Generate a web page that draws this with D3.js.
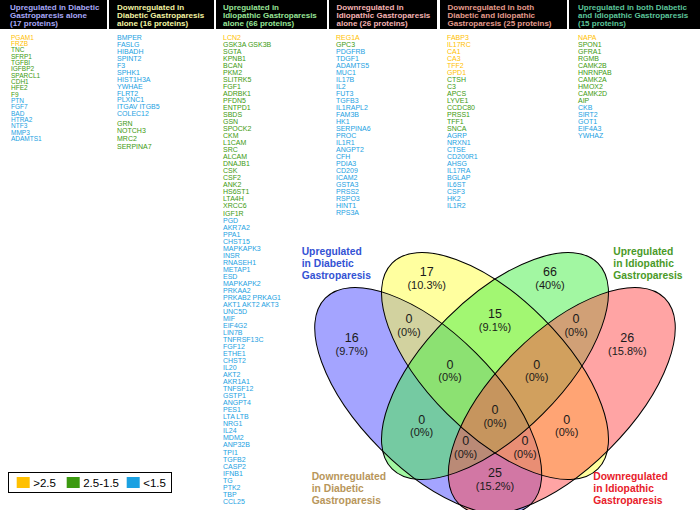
<!DOCTYPE html>
<html><head><meta charset="utf-8">
<script src="https://cdn.jsdelivr.net/npm/d3@7"></script>
<style>
body{margin:0;background:#fff}
svg{display:block}
text{font-family:"Liberation Sans",Arial,Helvetica,sans-serif}
</style>
</head><body>
<svg id="chart" width="700" height="510"></svg>
<script>
// ---------------- DATA ----------------
const legendLabels = [">2.5", "2.5-1.5", "<1.5"];
const levelColors = ["#ffc000", "#3c9a10", "#1ba1e2"];

const headerLines = [
  ["Upregulated in Diabetic", "Gastroparesis alone", "(17 proteins)"],
  ["Downregulated in", "Diabetic Gastroparesis", "alone (16 proteins)"],
  ["Upregulated in", "Idiopathic Gastroparesis", "alone (66 proteins)"],
  ["Downregulated in", "Idiopathic Gastroparesis", "alone (26 proteins)"],
  ["Downregulated in both", "Diabetic and Idiopathic", "Gastroparesis (25 proteins)"],
  ["Upregulated in both Diabetic", "and Idiopathic Gastroparesis", "(15 proteins)"]
];
const headerColors = ["#a8a8f8", "#f4f4a4", "#98e498", "#f4b4b4", "#e49c8c", "#5cc49a"];

const col1High = ["PGAM1", "FRZB"];
const col1Mid = ["TNC", "SFRP1", "TGFBI", "IGFBP2", "SPARCL1", "CDH1", "HFE2", "F9"];
const col1Low = ["PTN", "FGF7", "BAD", "HTRA2", "NTF3", "MMP3", "ADAMTS1"];

const col2Low = ["BMPER", "FASLG", "HIBADH", "SPINT2", "F3", "SPHK1", "HIST1H3A", "YWHAE", "FLRT2", "PLXNC1", "ITGAV ITGB5", "COLEC12"];
const col2Mid = ["GRN", "NOTCH3", "MRC2", "SERPINA7"];

const col3High = ["LCN2"];
const col3Mid = ["GSK3A GSK3B", "SGTA", "KPNB1", "BCAN", "PKM2", "SLITRK5", "FGF1", "ADRBK1", "PFDN5", "ENTPD1", "SBDS", "GSN", "SPOCK2", "CKM", "L1CAM", "SRC", "ALCAM", "DNAJB1", "CSK", "CSF2", "ANK2", "HS6ST1", "LTA4H", "XRCC6", "IGF1R"];
const col3Low = ["PGD", "AKR7A2", "PPA1", "CHST15", "MAPKAPK3", "INSR", "RNASEH1", "METAP1", "ESD", "MAPKAPK2", "PRKAA2", "PRKAB2 PRKAG1", "AKT1 AKT2 AKT3", "UNC5D", "MIF", "EIF4G2", "LIN7B", "TNFRSF13C", "FGF12", "ETHE1", "CHST2", "IL20", "AKT2", "AKR1A1", "TNFSF12", "GSTP1", "ANGPT4", "PES1", "LTA LTB", "NRG1", "IL24", "MDM2", "ANP32B", "TPI1", "TGFB2", "CASP2", "IFNB1", "TG", "PTK2", "TBP", "CCL25"];

const col4High = ["REG1A"];
const col4Mid = ["GPC3"];
const col4Low = ["PDGFRB", "TDGF1", "ADAMTS5", "MUC1", "IL17B", "IL2", "FUT3", "TGFB3", "IL1RAPL2", "FAM3B", "HK1", "SERPINA6", "PROC", "IL1R1", "ANGPT2", "CFH", "PDIA3", "CD209", "ICAM2", "GSTA3", "PRSS2", "RSPO3", "HINT1", "RPS3A"];

const col5High = ["FABP3", "IL17RC", "CA1", "CA3", "TFF2", "GPD1"];
const col5Mid = ["CTSH", "C3", "APCS", "LYVE1", "CCDC80", "PRSS1", "TFF1", "SNCA"];
const col5Low = ["AGRP", "NRXN1", "CTSE", "CD200R1", "AHSG", "IL17RA", "BGLAP", "IL6ST", "CSF3", "HK2", "IL1R2"];

const col6High = ["NAPA"];
const col6Mid = ["SPON1", "GFRA1", "RGMB", "CAMK2B", "HNRNPAB", "CAMK2A", "HMOX2", "CAMK2D", "AIP"];
const col6Low = ["CKB", "SIRT2", "GOT1", "EIF4A3", "YWHAZ"];

// Venn sets (drawing order) and region values
const setLabels = [
  ["Upregulated", "in Diabetic", "Gastroparesis"],
  ["Downregulated", "in Diabetic", "Gastroparesis"],
  ["Upregulated", "in Idiopathic", "Gastroparesis"],
  ["Downregulated", "in Idiopathic", "Gastroparesis"]
];
const setFills = ["#4a4aff", "#ffff40", "#46f046", "#ff4a4a"];
const setLabelColors = ["#3352d4", "#b8965a", "#4a9a28", "#e8202a"];
// regions: B=blue, Y=yellow, G=green, R=red
const regionKeys = ["B", "Y", "G", "R", "BY", "YG", "GR", "BYG", "YGR", "BG", "BYGR", "YR", "BGR", "BYR", "BR"];
const regionCounts = [16, 17, 66, 26, 0, 15, 0, 0, 0, 0, 0, 0, 0, 0, 25];
const regionPercents = ["9.7%", "10.3%", "40%", "15.8%", "0%", "9.1%", "0%", "0%", "0%", "0%", "0%", "0%", "0%", "0%", "15.2%"];

// ---------------- LAYOUT ----------------
const svg = d3.select("#chart");
const W = 700, H = 510;
svg.append("rect").attr("width", W).attr("height", H).attr("fill", "#fff");

// header boxes
const boxEdges = [[0, 107], [109, 214], [216, 327], [329, 437], [440, 567], [569, 700]];
const colX = d3.scaleOrdinal().domain(d3.range(6)).range([10, 117, 223, 336.5, 447.5, 578]);
const hdr = svg.append("g");
boxEdges.forEach((e, i) => {
  hdr.append("rect").attr("x", e[0]).attr("y", 0).attr("width", e[1] - e[0]).attr("height", 29).attr("fill", "#000");
  headerLines[i].forEach((ln, j) => {
    hdr.append("text").attr("x", colX(i)).attr("y", 10 + j * 8)
      .attr("font-size", 8).attr("font-weight", "bold").attr("fill", headerColors[i]).text(ln);
  });
});

// protein columns
const columns = [
  {groups: [[col1High, 0], [col1Mid, 1], [col1Low, 2]], step: 6.35, fs: 6.5, x: 11},
  {groups: [[col2Low, 2], [col2Mid, 1]], step: 6.97, fs: 7, x: 117, gapAfter: [2.2], stepByGroup: [6.97, 7.9]},
  {groups: [[col3High, 0], [col3Mid, 1], [col3Low, 2]], step: 7.03, fs: 7, x: 223},
  {groups: [[col4High, 0], [col4Mid, 1], [col4Low, 2]], step: 7.0, fs: 7, x: 336},
  {groups: [[col5High, 0], [col5Mid, 1], [col5Low, 2]], step: 7.0, fs: 7, x: 447},
  {groups: [[col6High, 0], [col6Mid, 1], [col6Low, 2]], step: 7.0, fs: 7, x: 578}
];
const levelColor = d3.scaleOrdinal().domain([0, 1, 2]).range(levelColors);
const listG = svg.append("g");
columns.forEach((c, ci) => {
  let y = 37.3;
  c.groups.forEach(([names, lvl], gi) => {
    const step = c.stepByGroup ? c.stepByGroup[gi] : c.step;
    if (c.gapAfter && gi > 0) y += c.gapAfter[gi - 1] || 0;
    const ys = d3.scaleLinear().domain([0, 1]).range([y, y + step]);
    listG.selectAll(null).data(names).enter().append("text")
      .attr("x", c.x).attr("y", (d, i) => ys(i))
      .attr("dy", "0.35em")
      .attr("font-size", c.fs).attr("fill", levelColor(lvl)).text(d => d);
    y = ys(names.length);
  });
});

// legend
const lg = svg.append("g");
lg.append("rect").attr("x", 8.5).attr("y", 472.5).attr("width", 163).attr("height", 20)
  .attr("fill", "#fff").attr("stroke", "#000").attr("stroke-width", 1);
const legX = d3.scaleOrdinal().domain(legendLabels).range([16.7, 66.7, 126.7]);
legendLabels.forEach((l, i) => {
  lg.append("rect").attr("x", legX(l)).attr("y", 477).attr("width", 13).attr("height", 11).attr("fill", levelColors[i]);
  lg.append("text").attr("x", legX(l) + 16.5).attr("y", 483).attr("dy", "0.35em").attr("font-size", 11.5).attr("fill", "#000").text(l);
});

// Venn diagram (normalised coordinates -> pixels)
const S = 410;
const vx = d3.scaleLinear().domain([0, 1]).range([290, 290 + S]);
const vy = d3.scaleLinear().domain([0, 1]).range([595.7, 595.7 - S]);
const ellA = 0.355, ellB = 0.165;
const ellipses = [
  {cx: 0.3371, cy: 0.4749, rot: 45},
  {cx: 0.5, cy: 0.5602, rot: 45},
  {cx: 0.5, cy: 0.5602, rot: -45},
  {cx: 0.6629, cy: 0.4749, rot: -45}
];
const vg = svg.append("g");
vg.selectAll("ellipse.fill").data(ellipses).enter().append("ellipse")
  .attr("class", "fill")
  .attr("rx", ellA * S).attr("ry", ellB * S)
  .attr("transform", d => `translate(${vx(d.cx)},${vy(d.cy)}) rotate(${d.rot})`)
  .attr("fill", (d, i) => setFills[i]).attr("fill-opacity", 0.5);
vg.selectAll("ellipse.line").data(ellipses).enter().append("ellipse")
  .attr("class", "line")
  .attr("rx", ellA * S).attr("ry", ellB * S)
  .attr("transform", d => `translate(${vx(d.cx)},${vy(d.cy)}) rotate(${d.rot})`)
  .attr("fill", "none").attr("stroke", "#000").attr("stroke-width", 1);

// region label anchor points (normalised)
const regionPos = {
  B: [0.1505, 0.6132], Y: [0.3334, 0.7741], G: [0.6341, 0.7741], R: [0.8227, 0.6132],
  BY: [0.2902, 0.6602], YG: [0.5, 0.6717], GR: [0.6976, 0.6602],
  BYG: [0.3902, 0.5485], YGR: [0.6017, 0.5485],
  BG: [0.3212, 0.4144], BYGR: [0.5, 0.4376], YR: [0.6749, 0.4144],
  BGR: [0.4285, 0.3627], BYR: [0.5732, 0.3627], BR: [0.5, 0.2834]
};
regionKeys.forEach((k, i) => {
  const px = vx(regionPos[k][0]), py = vy(regionPos[k][1]);
  vg.append("text").attr("x", px).attr("y", py - 6.5).attr("dy", "0.35em").attr("text-anchor", "middle")
    .attr("font-size", 12.5).attr("fill", "#1a1a1a").text(regionCounts[i]);
  vg.append("text").attr("x", px).attr("y", py + 6.8).attr("dy", "0.35em").attr("text-anchor", "middle")
    .attr("font-size", 11).attr("fill", "#1a1a1a").text("(" + regionPercents[i] + ")");
});

// set labels
const setLabelPos = [[301.7, 251.7], [311.7, 476.7], [613.3, 251.7], [593.3, 476.7]];
setLabels.forEach((lines, i) => {
  lines.forEach((ln, j) => {
    vg.append("text").attr("x", setLabelPos[i][0]).attr("y", setLabelPos[i][1] + j * 11.7)
      .attr("dy", "0.35em").attr("font-size", 10.3).attr("font-weight", "bold")
      .attr("fill", setLabelColors[i]).text(ln);
  });
});
</script>
</body></html>
